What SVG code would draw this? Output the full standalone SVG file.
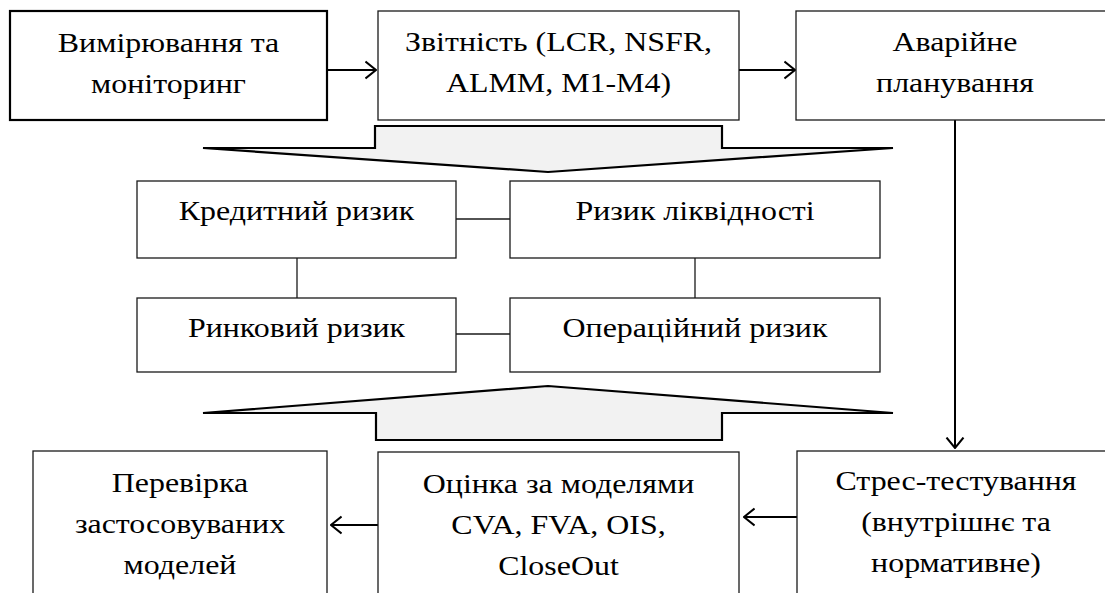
<svg xmlns="http://www.w3.org/2000/svg" width="1105" height="593" viewBox="0 0 1105 593">
<style>
.box{fill:#fff;stroke:#1a1a1a;stroke-width:1.3}
.box2{fill:#fff;stroke:#000;stroke-width:2.2}
.t{font-family:"Liberation Serif","Times New Roman",serif;font-size:28px;fill:#000;text-anchor:middle}
.arrow{fill:none;stroke:#000;stroke-width:2;marker-end:url(#arr)}
.link{fill:none;stroke:#1a1a1a;stroke-width:1.3}
.block{fill:#f2f2f2;stroke:#000;stroke-width:2.2;stroke-linejoin:miter}
</style>
<defs>
<marker id="arr" viewBox="0 0 12 20" refX="11" refY="10" markerWidth="12" markerHeight="20" orient="auto" markerUnits="userSpaceOnUse">
<path d="M0.5,1.5 L11,10 L0.5,18.5" fill="none" stroke="#000" stroke-width="2"/>
</marker>
</defs>
<rect width="1105" height="593" fill="#fff"/>
<g id="connectors">
<line class="arrow" x1="328" y1="70" x2="376" y2="70"/>
<line class="arrow" x1="739" y1="70" x2="795" y2="70"/>
<line class="arrow" x1="955" y1="120" x2="955" y2="448"/>
<line class="arrow" x1="797" y1="517" x2="744" y2="517"/>
<line class="arrow" x1="378" y1="525" x2="331" y2="525"/>
<line class="link" x1="456" y1="219" x2="510" y2="219"/>
<line class="link" x1="456" y1="334" x2="510" y2="334"/>
<line class="link" x1="297" y1="258" x2="297" y2="298"/>
<line class="link" x1="695" y1="258" x2="695" y2="298"/>
</g>
<g id="down-arrow">
<polygon class="block" points="375,126 722,126 722,148 893,148 548,172 203,148 375,148"/>
</g>
<g id="up-arrow">
<polygon class="block" points="376,440 722,440 722,413 893,413 548,386 203,413 376,413"/>
</g>
<g id="n-measure">
<rect class="box2" x="10" y="11" width="317" height="109"/>
<text class="t" transform="translate(168.5,52) scale(1.14,1)">Вимірювання та</text>
<text class="t" transform="translate(168.5,93) scale(1.14,1)">моніторинг</text>
</g>
<g id="n-report">
<rect class="box" x="378" y="11" width="361" height="109"/>
<text class="t" transform="translate(558.5,51) scale(1.14,1)">Звітність (LCR, NSFR,</text>
<text class="t" transform="translate(558.5,92) scale(1.14,1)">ALMM, M1-M4)</text>
</g>
<g id="n-emergency">
<rect class="box" x="796" y="11" width="318" height="109"/>
<text class="t" transform="translate(955,51) scale(1.14,1)">Аварійне</text>
<text class="t" transform="translate(955,92) scale(1.14,1)">планування</text>
</g>
<g id="n-credit">
<rect class="box" x="137" y="181" width="319" height="77"/>
<text class="t" transform="translate(296.5,220) scale(1.14,1)">Кредитний ризик</text>
</g>
<g id="n-liquidity">
<rect class="box" x="510" y="181" width="370" height="77"/>
<text class="t" transform="translate(695,220) scale(1.14,1)">Ризик ліквідності</text>
</g>
<g id="n-market">
<rect class="box" x="137" y="298" width="319" height="74"/>
<text class="t" transform="translate(296.5,337) scale(1.14,1)">Ринковий ризик</text>
</g>
<g id="n-operational">
<rect class="box" x="510" y="298" width="370" height="74"/>
<text class="t" transform="translate(695,337) scale(1.14,1)">Операційний ризик</text>
</g>
<g id="n-check">
<rect class="box" x="33" y="451" width="294" height="150"/>
<text class="t" transform="translate(180,492) scale(1.14,1)">Перевірка</text>
<text class="t" transform="translate(180,533) scale(1.14,1)">застосовуваних</text>
<text class="t" transform="translate(180,574) scale(1.14,1)">моделей</text>
</g>
<g id="n-models">
<rect class="box" x="378" y="452" width="361" height="150"/>
<text class="t" transform="translate(558.5,493) scale(1.14,1)">Оцінка за моделями</text>
<text class="t" transform="translate(558.5,534) scale(1.14,1)">CVA, FVA, OIS,</text>
<text class="t" transform="translate(558.5,575) scale(1.14,1)">CloseOut</text>
</g>
<g id="n-stress">
<rect class="box" x="797" y="451" width="318" height="150"/>
<text class="t" transform="translate(956,490) scale(1.14,1)">Стрес-тестування</text>
<text class="t" transform="translate(956,531) scale(1.14,1)">(внутрішнє та</text>
<text class="t" transform="translate(956,572) scale(1.14,1)">нормативне)</text>
</g>
</svg>
